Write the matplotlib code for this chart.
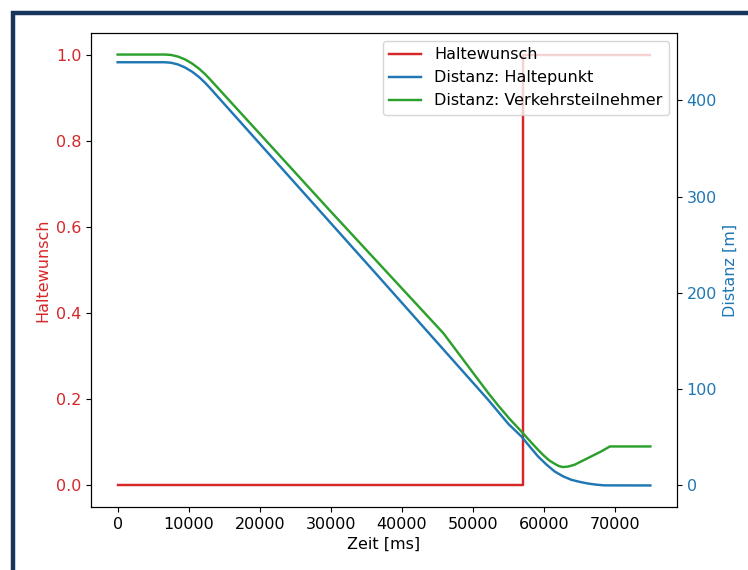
import matplotlib
matplotlib.use("Agg")
import matplotlib.pyplot as plt
from matplotlib.patches import Rectangle

plt.rcParams["font.size"] = 11.55
plt.rcParams["lines.linewidth"] = 1.75

# Haltewunsch (stop request) over time
t_halt = [0, 57000, 57000, 75000]
halt = [0, 0, 1, 1]

# Distance to the stopping point [m]
t_hp = [0, 6620, 7500, 8500, 9500, 10500, 11500, 12300, 12910, 36750,
        52170, 55000, 56850, 58000, 59190, 60400, 61530, 62700, 63860,
        65000, 66200, 67400, 68540, 75000]
d_hp = [439.5, 439.5, 439.0, 437.2, 434.0, 429.6, 423.9, 418.3, 413.5, 216.8,
        88.9, 64.0, 50.8, 40.5, 30.1, 21.5, 14.5, 9.5, 5.9,
        3.8, 2.0, 0.8, 0.1, 0.0]

# Distance to the other road user [m]
t_vt = [0, 6680, 7500, 8500, 9500, 10500, 11500, 12300, 12940, 29730,
        36750, 45860, 52170, 53580, 55200, 56850, 58000, 59190, 60000,
        60800, 61530, 62100, 62690, 63400, 64330, 66200, 68070, 69300, 75000]
d_vt = [447.5, 447.5, 447.1, 445.4, 442.4, 438.1, 432.6, 427.2, 422.3, 286.7,
        230.7, 158.1, 96.0, 83.0, 69.0, 56.0, 46.5, 37.0, 31.0,
        25.8, 22.5, 20.2, 19.1, 19.6, 21.5, 28.4, 35.3, 40.5, 40.5]

fig = plt.figure(figsize=(7.48, 5.70), dpi=100)
ax1 = fig.add_axes([91 / 748, 63 / 570, 586 / 748, 474 / 570])

# dark frame running along the left and top edges
frame = Rectangle((13 / 748, -0.05), 1.1, (570 - 13) / 570 + 0.05,
                  transform=fig.transFigure, fill=False,
                  edgecolor="#17345a", linewidth=3.2, zorder=0)
fig.patches.append(frame)

red = "tab:red"
blue = "tab:blue"
green = "tab:green"

l1, = ax1.plot(t_halt, halt, color=red, label="Haltewunsch")
ax1.set_xlabel("Zeit [ms]")
ax1.set_ylabel("Haltewunsch", color=red)
ax1.tick_params(axis="y", labelcolor=red)

ax2 = ax1.twinx()
l2, = ax2.plot(t_hp, d_hp, color=blue, label="Distanz: Haltepunkt")
l3, = ax2.plot(t_vt, d_vt, color=green, label="Distanz: Verkehrsteilnehmer")
ax2.set_ylabel("Distanz [m]", color=blue)
ax2.tick_params(axis="y", labelcolor=blue)

ax2.legend(handles=[l1, l2, l3], loc="upper right")

fig.savefig("out.png", dpi=100)
